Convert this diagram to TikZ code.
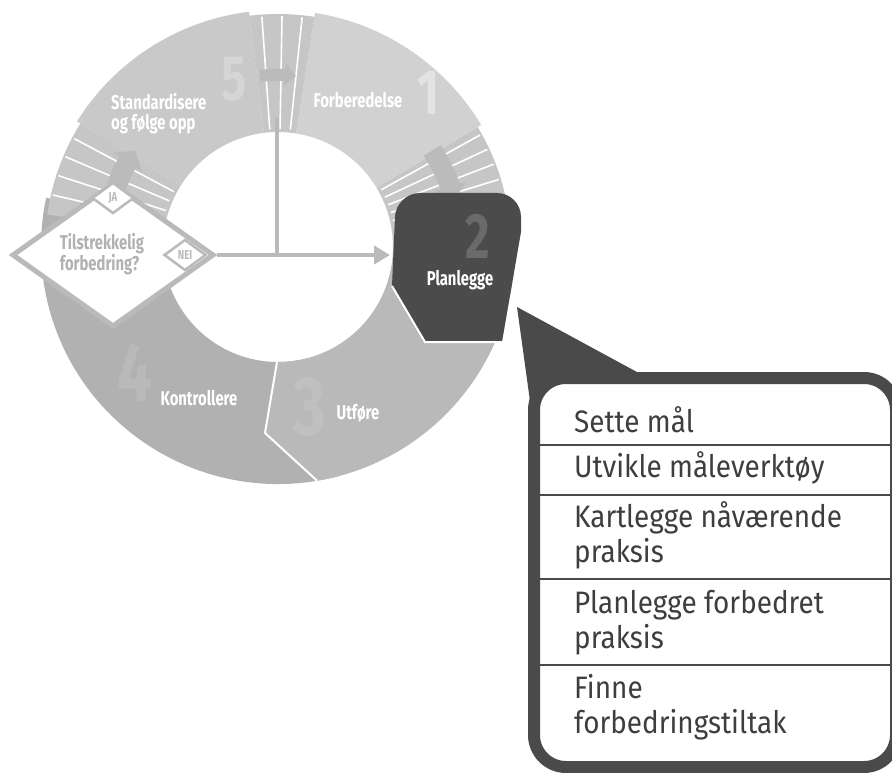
\documentclass[tikz,border=0pt]{standalone}
\usepackage{fontspec}
\setmainfont{Fira Sans}
\newfontfamily\condfont[FakeStretch=0.74]{Fira Sans}
\newfontfamily\listfont[FakeStretch=0.9]{Fira Sans}
\usetikzlibrary{shapes.geometric, arrows.meta}
\definecolor{segone}{HTML}{D1D1D1}
\definecolor{segfive}{HTML}{C9C9C9}
\definecolor{segfour}{HTML}{B1B1B1}
\definecolor{segthree}{HTML}{B9B9B9}
\definecolor{bandgray}{HTML}{C6C6C6}
\definecolor{bandarrow}{HTML}{BBBBBB}
\definecolor{plandark}{HTML}{4B4B4B}
\definecolor{calloutdark}{HTML}{4A4A4A}
\definecolor{flowgray}{HTML}{BABABA}
\definecolor{listtext}{HTML}{3E3E3E}

\begin{document}
\begin{tikzpicture}[x=1pt, y=-1pt,
    seglabel/.style={font=\condfont\bfseries\fontsize{20}{20}\selectfont, text=white, inner sep=0pt},
    bignum/.style={font=\condfont\bfseries\fontsize{64}{64}\selectfont, inner sep=0pt},
    bignumlarge/.style={font=\condfont\bfseries\fontsize{84}{84}\selectfont, inner sep=0pt},
    stripe/.style={white, line width=1.6pt},
    flowline/.style={flowgray, line width=4pt},
    smalldiamond/.style={diamond, draw=flowgray, line width=2.5pt, fill=white, inner sep=0pt,
        minimum width=42pt, minimum height=31pt, text=flowgray, font=\condfont\bfseries\fontsize{13}{13}\selectfont},
    taskrow/.style={anchor=base west, align=left, inner sep=0pt, text=listtext,
        font=\listfont\fontsize{31}{35}\selectfont},
    divider/.style={calloutdark, line width=2pt}]
    \useasboundingbox (0,0) rectangle (892,773);
    \fill[white] (0,0) rectangle (892,773);

    % Ring of the improvement cycle
    \begin{scope}[shift={(278,247)}, yscale=-1]
        \fill[segfour] (168:115) arc[start angle=168, end angle=285, radius=115] -- (285:237) arc[start angle=285, end angle=168, radius=237] -- cycle;
        \fill[segthree] (-90.5:115) -- (-13,-186) -- (-80.5:237) arc[start angle=-80.5, end angle=5, radius=237] -- (5:115) arc[start angle=5, end angle=-90.5, radius=115] -- cycle;
        \draw[white, line width=2pt] (-90.5:115) -- (-13,-186) -- (-80.5:237);
        \fill[bandgray] (5:115) arc[start angle=5, end angle=31, radius=115] -- (31:233) arc[start angle=31, end angle=5, radius=233] -- cycle;
        \fill[segone] (31:115) arc[start angle=31, end angle=81, radius=115] -- (81:237) arc[start angle=81, end angle=31, radius=237] -- cycle;
        \fill[bandgray] (81:115) arc[start angle=81, end angle=97, radius=115] -- (97:233) arc[start angle=97, end angle=81, radius=233] -- cycle;
        \fill[segfive] (97:115) arc[start angle=97, end angle=148, radius=115] -- (148:237) arc[start angle=148, end angle=97, radius=237] -- cycle;
        \fill[bandgray] (148:115) arc[start angle=148, end angle=172, radius=115] -- (172:233) arc[start angle=172, end angle=148, radius=233] -- cycle;
        % stripes in the bands
        \foreach \a in {9,13,17,21,25,29,84,89,94,152,157,162,167} {
            \draw[stripe] (\a:118) -- (\a:231);
        }
        % arrows in the bands
        \draw[bandarrow, line width=12pt, -{Triangle[length=11pt, width=22pt]}] (96:172) arc[start angle=96, end angle=84, radius=172];
        \draw[bandarrow, line width=20pt, -{Triangle[length=14pt, width=34pt]}] (32:182) arc[start angle=32, end angle=15, radius=182];
        \draw[bandarrow, line width=20pt, -{Triangle[length=14pt, width=34pt]}] (171:172) arc[start angle=171, end angle=146, radius=172];
    \end{scope}

    % Planlegge block
    \fill[plandark] (425,342) -- (392,286) {[rounded corners=24pt] -- (396,193) -- (521,193)} -- (521,232) -- (502,342) -- cycle;
    \draw[white, line width=2pt] (392,286) -- (425,342) -- (502,342);

    % Step numbers
    \node[bignum, text=white!40!segone] (n1) at (428,93) {1};
    \node[bignum, text=white!22!segfive] (n5) at (234,79) {5};
    \node[bignumlarge, text=white!10!segfour] (n4) at (135,372) {4};
    \node[bignumlarge, text=white!10!segthree] (n3) at (310,407) {3};
    \node[bignum, text=white!17!plandark] (n2) at (478,236) {2};

    % Step labels
    \node[seglabel] (forb) at (358,100) {Forberedelse};
    \node[seglabel, anchor=west, align=left] (stand) at (111,114) {Standardisere\\og følge opp};
    \node[seglabel] (plan) at (460,280) {Planlegge};
    \node[seglabel] (kontr) at (199,398) {Kontrollere};
    \node[seglabel] (utf) at (358,413) {Utføre};

    % Decision
    \node[diamond, draw=flowgray, line width=5pt, fill=white, inner sep=0pt,
        minimum width=202pt, minimum height=144pt] (dec) at (113,255) {};
    \node[font=\condfont\bfseries\fontsize{20}{18}\selectfont, text=flowgray!95!black, align=left, inner sep=0pt] (dectext) at (102,254) {Tilstrekkelig\\forbedring?};
    \node[smalldiamond] (ja) at (113,198) {JA};
    \node[smalldiamond] (nei) at (185,255) {NEI};

    % Flow back to planning
    \coordinate (ringtop) at (277,117);
    \coordinate (joint) at (277,255);
    \coordinate (planw) at (390,255);
    \draw[flowline] (ringtop) -- (joint);
    \draw[flowline, -{Triangle[length=16pt, width=18pt]}] (dec.east) -- (planw);

    % Callout with the planning tasks
    \fill[calloutdark] (517,307) -- (648,378) -- (534,430) -- cycle;
    \draw[calloutdark, line width=12pt, fill=white, rounded corners=32pt] (534,378) rectangle (896,767);
    \foreach \y in {445,495,579,665} {
        \draw[divider] (540,\y) -- (890,\y);
    }
    \node[taskrow] (t1) at (574,432) {Sette mål};
    \node[taskrow] (t2) at (574,477) {Utvikle måleverktøy};
    \node[taskrow] (t3) at (574,562) {Kartlegge nåværende\\praksis};
    \node[taskrow] (t4) at (574,648) {Planlegge forbedret\\praksis};
    \node[taskrow] (t5) at (574,733) {Finne\\forbedringstiltak};
\end{tikzpicture}
\end{document}
